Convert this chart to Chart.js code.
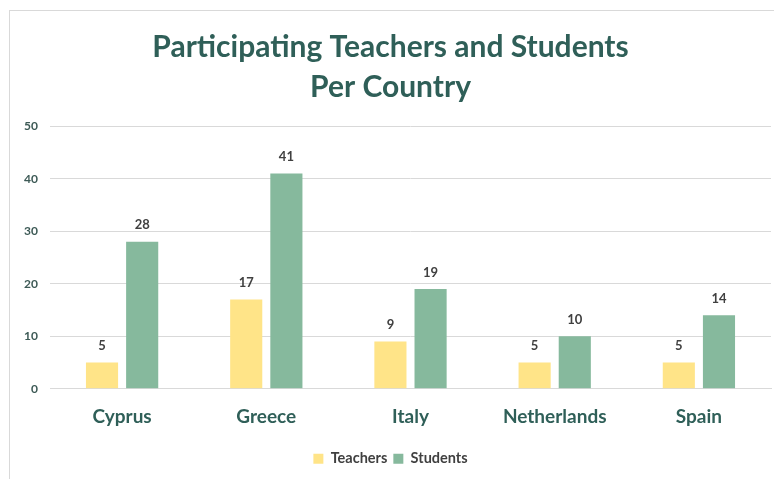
<!DOCTYPE html>
<html>
<head>
<meta charset="utf-8">
<script src="https://cdn.jsdelivr.net/npm/chart.js@4"></script>
<style>
  body { margin: 0; background: #fff; }
  #wrap {
    position: absolute; left: 9px; top: 10px;
    width: 765px; height: 469px;
    border-left: 1px solid #d9d9d9; border-top: 1px solid #d9d9d9;
  }
</style>
</head>
<body>
<div id="wrap"><canvas id="chart"></canvas></div>
<script>
'use strict';

const countries = ['Cyprus', 'Greece', 'Italy', 'Netherlands', 'Spain'];
const teachers = [5, 17, 9, 5, 5];
const students = [28, 41, 19, 10, 14];
const yTicks = [0, 10, 20, 30, 40, 50];

const FONT = 'Lato, "Open Sans", sans-serif';
const TEAL = '#2f5f58';

// Value labels above each bar (no datalabels plugin available)
const valueLabels = {
  id: 'valueLabels',
  afterDatasetsDraw(chart) {
    const ctx = chart.ctx;
    ctx.save();
    ctx.font = 'bold 13px ' + FONT;
    ctx.fillStyle = '#404040';
    ctx.textAlign = 'center';
    ctx.textBaseline = 'bottom';
    chart.data.datasets.forEach((ds, i) => {
      chart.getDatasetMeta(i).data.forEach((bar, j) => {
        ctx.fillText(ds.data[j], bar.x, bar.y - 10);
      });
    });
    ctx.restore();
  }
};

const canvasElem = document.getElementById('chart');

new Chart(canvasElem, {
  type: 'bar',
  data: {
    labels: countries,
    datasets: [
      {
        label: 'Teachers',
        data: teachers,
        backgroundColor: '#ffe488',
        categoryPercentage: 0.557,
        barPercentage: 0.8,
      },
      {
        label: 'Students',
        data: students,
        backgroundColor: '#86b99d',
        categoryPercentage: 0.557,
        barPercentage: 0.8,
      },
    ],
  },
  options: {
    responsive: true,
    maintainAspectRatio: false,
    animation: false,
    layout: { padding: { left: 0, right: 4, top: 12, bottom: 4 } },
    plugins: {
      title: {
        display: true,
        text: ['Participating Teachers and Students', 'Per Country'],
        color: TEAL,
        font: { family: FONT, size: 30, weight: 'bold', lineHeight: 1.33 },
        padding: { top: 4, bottom: 19.5 },
      },
      legend: {
        position: 'bottom',
        labels: {
          color: '#404040',
          font: { family: FONT, size: 14.5, weight: 'bold' },
          boxWidth: 10,
          boxHeight: 10,
          padding: 6,
        },
      },
      tooltip: { enabled: false },
    },
    scales: {
      x: {
        grid: { display: false, drawTicks: false },
        border: { display: true, color: '#d9d9d9' },
        ticks: {
          color: TEAL,
          font: { family: FONT, size: 19, weight: 'bold' },
          padding: 17,
        },
      },
      y: {
        min: 0,
        max: 50,
        afterBuildTicks(axis) {
          axis.ticks = yTicks.map(v => ({ value: v }));
        },
        afterFit(axis) {
          axis.width = 40;
        },
        grid: { color: '#d9d9d9', drawTicks: false },
        border: { display: false },
        ticks: {
          color: '#3d5a56',
          font: { family: FONT, size: 12, weight: 'bold' },
          padding: 12,
        },
      },
    },
  },
  plugins: [valueLabels],
});
</script>
</body>
</html>
